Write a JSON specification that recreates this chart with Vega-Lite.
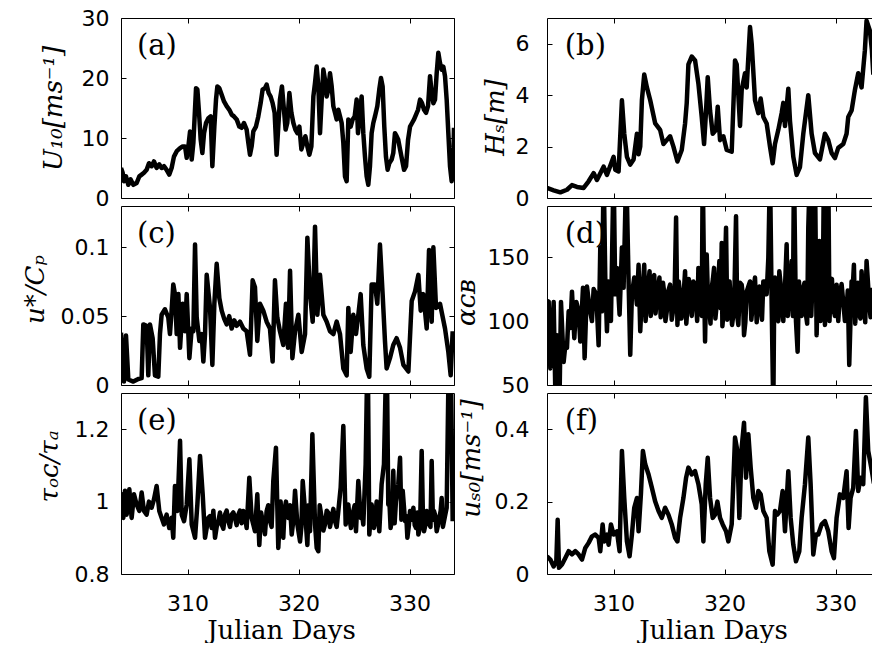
{
"$schema":"https://vega.github.io/schema/vega-lite/v6.json",
"autosize":{"type":"pad"},
"padding":{"left":22,"top":7,"right":0,"bottom":0},
"background":"white",
"columns":2,
"spacing":{"row":8,"column":93},
"bounds":"flush",
"config":{
 "view":{"stroke":null},
 "axis":{"grid":false,"domainColor":"black","domainWidth":1,"tickColor":"black","tickSize":-5,"tickWidth":1,"labelFont":"DejaVu Sans","labelFontSize":22,"labelColor":"black","labelOverlap":false,"labelFlush":false,"titleColor":"black","titleFont":"DejaVu Serif","titleFontWeight":"normal"},
 "text":{"font":"DejaVu Serif","fontSize":29,"align":"left","baseline":"alphabetic","color":"black"}
},
"datasets":{
"a":[{"d":304.00,"v":5.0},{"d":304.15,"v":4.2},{"d":304.27,"v":2.8},{"d":304.45,"v":3.6},{"d":304.66,"v":2.2},{"d":304.87,"v":3.1},{"d":305.11,"v":2.2},{"d":305.41,"v":2.5},{"d":305.65,"v":3.6},{"d":305.86,"v":3.9},{"d":306.07,"v":4.2},{"d":306.31,"v":4.7},{"d":306.52,"v":5.8},{"d":306.76,"v":5.3},{"d":306.97,"v":6.1},{"d":307.21,"v":5.0},{"d":307.45,"v":5.6},{"d":307.66,"v":5.0},{"d":307.87,"v":5.3},{"d":308.11,"v":4.7},{"d":308.35,"v":3.9},{"d":308.56,"v":5.0},{"d":308.77,"v":6.9},{"d":309.02,"v":7.8},{"d":309.32,"v":8.3},{"d":309.56,"v":8.6},{"d":309.77,"v":8.6},{"d":309.92,"v":6.7},{"d":310.07,"v":8.6},{"d":310.22,"v":11.1},{"d":310.37,"v":6.4},{"d":310.52,"v":9.2},{"d":310.76,"v":18.3},{"d":310.88,"v":18.1},{"d":311.03,"v":14.2},{"d":311.18,"v":9.7},{"d":311.33,"v":7.5},{"d":311.48,"v":10.8},{"d":311.66,"v":12.5},{"d":311.87,"v":13.3},{"d":312.08,"v":13.6},{"d":312.23,"v":5.3},{"d":312.41,"v":11.9},{"d":312.56,"v":16.4},{"d":312.68,"v":18.6},{"d":312.86,"v":18.3},{"d":313.07,"v":17.2},{"d":313.28,"v":16.1},{"d":313.52,"v":15.3},{"d":313.76,"v":14.7},{"d":313.97,"v":13.9},{"d":314.18,"v":13.6},{"d":314.42,"v":13.1},{"d":314.66,"v":11.9},{"d":314.87,"v":11.7},{"d":315.08,"v":12.5},{"d":315.32,"v":11.4},{"d":315.47,"v":9.2},{"d":315.62,"v":7.2},{"d":315.77,"v":8.6},{"d":315.92,"v":11.1},{"d":316.16,"v":11.9},{"d":316.37,"v":13.6},{"d":316.58,"v":15.8},{"d":316.76,"v":18.1},{"d":316.97,"v":18.3},{"d":317.12,"v":18.9},{"d":317.30,"v":17.5},{"d":317.48,"v":16.9},{"d":317.66,"v":15.8},{"d":317.84,"v":14.2},{"d":318.02,"v":7.2},{"d":318.17,"v":11.9},{"d":318.32,"v":16.4},{"d":318.50,"v":18.6},{"d":318.68,"v":14.7},{"d":318.83,"v":11.4},{"d":318.98,"v":12.5},{"d":319.17,"v":17.5},{"d":319.35,"v":14.2},{"d":319.53,"v":12.5},{"d":319.71,"v":11.4},{"d":319.89,"v":10.8},{"d":320.07,"v":11.9},{"d":320.25,"v":8.1},{"d":320.43,"v":9.2},{"d":320.61,"v":10.3},{"d":320.79,"v":8.6},{"d":320.97,"v":7.2},{"d":321.15,"v":8.6},{"d":321.33,"v":16.9},{"d":321.48,"v":19.2},{"d":321.63,"v":21.9},{"d":321.78,"v":18.6},{"d":321.93,"v":10.8},{"d":322.08,"v":16.4},{"d":322.23,"v":21.4},{"d":322.38,"v":19.7},{"d":322.53,"v":16.9},{"d":322.68,"v":18.1},{"d":322.83,"v":20.8},{"d":322.98,"v":18.6},{"d":323.13,"v":15.3},{"d":323.28,"v":14.2},{"d":323.43,"v":13.1},{"d":323.58,"v":14.7},{"d":323.73,"v":13.6},{"d":323.88,"v":12.5},{"d":324.03,"v":9.2},{"d":324.18,"v":3.6},{"d":324.33,"v":2.8},{"d":324.48,"v":13.1},{"d":324.69,"v":11.9},{"d":324.87,"v":13.1},{"d":325.05,"v":13.6},{"d":325.23,"v":16.4},{"d":325.35,"v":10.8},{"d":325.53,"v":14.2},{"d":325.68,"v":16.9},{"d":325.83,"v":10.8},{"d":325.98,"v":6.9},{"d":326.13,"v":3.6},{"d":326.28,"v":2.2},{"d":326.43,"v":5.3},{"d":326.58,"v":10.8},{"d":326.73,"v":12.5},{"d":326.88,"v":13.6},{"d":327.09,"v":15.3},{"d":327.27,"v":18.1},{"d":327.42,"v":20.0},{"d":327.57,"v":18.6},{"d":327.72,"v":11.9},{"d":327.87,"v":6.9},{"d":328.02,"v":4.7},{"d":328.17,"v":5.8},{"d":328.38,"v":6.4},{"d":328.53,"v":7.5},{"d":328.68,"v":10.8},{"d":328.83,"v":10.3},{"d":328.98,"v":9.7},{"d":329.14,"v":8.1},{"d":329.32,"v":6.4},{"d":329.50,"v":4.7},{"d":329.68,"v":5.3},{"d":329.86,"v":9.7},{"d":330.04,"v":11.9},{"d":330.22,"v":12.5},{"d":330.40,"v":13.1},{"d":330.58,"v":13.9},{"d":330.76,"v":14.7},{"d":330.94,"v":16.4},{"d":331.12,"v":15.8},{"d":331.30,"v":14.7},{"d":331.48,"v":14.2},{"d":331.66,"v":15.3},{"d":331.84,"v":20.3},{"d":331.99,"v":17.5},{"d":332.14,"v":15.8},{"d":332.29,"v":16.4},{"d":332.44,"v":20.8},{"d":332.59,"v":24.2},{"d":332.74,"v":22.5},{"d":332.89,"v":21.4},{"d":333.04,"v":21.9},{"d":333.19,"v":20.3},{"d":333.34,"v":16.4},{"d":333.49,"v":10.8},{"d":333.64,"v":5.3},{"d":333.79,"v":2.8},{"d":333.94,"v":6.4},{"d":334.0,"v":11.7}],
"b":[{"d":304.00,"v":0.39},{"d":304.60,"v":0.30},{"d":305.20,"v":0.22},{"d":305.80,"v":0.32},{"d":306.25,"v":0.50},{"d":306.70,"v":0.43},{"d":307.30,"v":0.39},{"d":307.75,"v":0.65},{"d":308.20,"v":0.97},{"d":308.50,"v":0.70},{"d":309.10,"v":1.22},{"d":309.40,"v":0.90},{"d":310.00,"v":1.60},{"d":310.15,"v":1.10},{"d":310.45,"v":1.03},{"d":310.75,"v":3.80},{"d":310.96,"v":2.50},{"d":311.20,"v":1.60},{"d":311.50,"v":1.30},{"d":311.80,"v":1.50},{"d":312.10,"v":2.50},{"d":312.25,"v":1.70},{"d":312.40,"v":2.00},{"d":312.55,"v":3.80},{"d":312.76,"v":4.80},{"d":313.00,"v":4.30},{"d":313.30,"v":3.80},{"d":313.75,"v":2.90},{"d":314.19,"v":2.65},{"d":314.49,"v":2.10},{"d":314.79,"v":2.25},{"d":315.09,"v":2.40},{"d":315.39,"v":2.00},{"d":315.75,"v":1.42},{"d":316.14,"v":1.87},{"d":316.44,"v":2.90},{"d":316.59,"v":3.70},{"d":316.74,"v":5.20},{"d":317.04,"v":5.50},{"d":317.34,"v":5.35},{"d":317.64,"v":4.45},{"d":317.94,"v":3.15},{"d":318.15,"v":2.10},{"d":318.33,"v":3.40},{"d":318.48,"v":4.70},{"d":318.69,"v":3.40},{"d":318.93,"v":2.50},{"d":319.23,"v":2.65},{"d":319.38,"v":3.55},{"d":319.59,"v":2.25},{"d":319.89,"v":2.40},{"d":320.19,"v":1.87},{"d":320.64,"v":1.80},{"d":320.94,"v":5.35},{"d":321.09,"v":5.20},{"d":321.39,"v":2.80},{"d":321.54,"v":4.20},{"d":321.84,"v":4.85},{"d":321.99,"v":4.30},{"d":322.29,"v":6.65},{"d":322.44,"v":6.00},{"d":322.74,"v":3.80},{"d":323.04,"v":3.30},{"d":323.25,"v":3.87},{"d":323.49,"v":3.15},{"d":323.79,"v":2.90},{"d":324.09,"v":2.00},{"d":324.33,"v":1.35},{"d":324.54,"v":2.10},{"d":324.84,"v":2.65},{"d":325.14,"v":3.30},{"d":325.29,"v":3.70},{"d":325.44,"v":2.80},{"d":325.74,"v":4.25},{"d":325.89,"v":3.00},{"d":326.19,"v":1.60},{"d":326.49,"v":0.90},{"d":326.79,"v":1.20},{"d":327.09,"v":2.50},{"d":327.54,"v":4.00},{"d":327.84,"v":2.50},{"d":328.14,"v":1.75},{"d":328.59,"v":1.50},{"d":329.04,"v":2.50},{"d":329.34,"v":2.25},{"d":329.64,"v":1.75},{"d":329.94,"v":1.55},{"d":330.24,"v":1.95},{"d":330.69,"v":2.10},{"d":330.99,"v":2.50},{"d":331.14,"v":3.15},{"d":331.44,"v":3.40},{"d":331.74,"v":4.20},{"d":332.04,"v":4.85},{"d":332.34,"v":4.30},{"d":332.64,"v":5.75},{"d":332.79,"v":6.90},{"d":333.09,"v":6.50},{"d":333.27,"v":5.75},{"d":333.40,"v":4.80}],
"c":[{"d":304.00,"v":0.038},{"d":304.15,"v":0.017},{"d":304.27,"v":0.0025},{"d":304.45,"v":0.036},{"d":304.66,"v":0.004},{"d":305.11,"v":0.0025},{"d":305.56,"v":0.0044},{"d":305.86,"v":0.005},{"d":306.01,"v":0.044},{"d":306.31,"v":0.043},{"d":306.46,"v":0.007},{"d":306.61,"v":0.044},{"d":306.85,"v":0.034},{"d":307.06,"v":0.007},{"d":307.36,"v":0.006},{"d":307.51,"v":0.037},{"d":307.66,"v":0.051},{"d":307.96,"v":0.055},{"d":308.26,"v":0.049},{"d":308.41,"v":0.037},{"d":308.56,"v":0.054},{"d":308.71,"v":0.073},{"d":308.86,"v":0.066},{"d":309.02,"v":0.037},{"d":309.17,"v":0.066},{"d":309.32,"v":0.027},{"d":309.56,"v":0.059},{"d":309.77,"v":0.039},{"d":309.92,"v":0.066},{"d":310.16,"v":0.0195},{"d":310.37,"v":0.041},{"d":310.52,"v":0.039},{"d":310.67,"v":0.102},{"d":310.82,"v":0.049},{"d":311.06,"v":0.032},{"d":311.27,"v":0.037},{"d":311.42,"v":0.017},{"d":311.57,"v":0.037},{"d":311.72,"v":0.080},{"d":312.02,"v":0.056},{"d":312.23,"v":0.0146},{"d":312.41,"v":0.059},{"d":312.62,"v":0.088},{"d":312.86,"v":0.063},{"d":313.07,"v":0.054},{"d":313.3,"v":0.048},{"d":313.52,"v":0.044},{"d":313.75,"v":0.05},{"d":313.97,"v":0.041},{"d":314.2,"v":0.047},{"d":314.42,"v":0.043},{"d":314.72,"v":0.046},{"d":315.02,"v":0.041},{"d":315.32,"v":0.039},{"d":315.62,"v":0.022},{"d":315.86,"v":0.076},{"d":316.07,"v":0.071},{"d":316.28,"v":0.032},{"d":316.52,"v":0.059},{"d":316.82,"v":0.054},{"d":317.12,"v":0.046},{"d":317.42,"v":0.041},{"d":317.66,"v":0.017},{"d":317.87,"v":0.076},{"d":318.08,"v":0.049},{"d":318.32,"v":0.039},{"d":318.62,"v":0.029},{"d":318.86,"v":0.059},{"d":319.05,"v":0.027},{"d":319.23,"v":0.083},{"d":319.44,"v":0.0195},{"d":319.68,"v":0.039},{"d":319.98,"v":0.051},{"d":320.28,"v":0.024},{"d":320.58,"v":0.037},{"d":320.79,"v":0.107},{"d":321.03,"v":0.066},{"d":321.27,"v":0.046},{"d":321.48,"v":0.115},{"d":321.69,"v":0.051},{"d":321.93,"v":0.080},{"d":322.23,"v":0.051},{"d":322.53,"v":0.046},{"d":322.83,"v":0.039},{"d":323.13,"v":0.037},{"d":323.43,"v":0.046},{"d":323.73,"v":0.037},{"d":324.03,"v":0.012},{"d":324.33,"v":0.007},{"d":324.48,"v":0.056},{"d":324.69,"v":0.024},{"d":324.93,"v":0.051},{"d":325.17,"v":0.037},{"d":325.38,"v":0.051},{"d":325.59,"v":0.066},{"d":325.83,"v":0.029},{"d":326.13,"v":0.012},{"d":326.37,"v":0.006},{"d":326.58,"v":0.073},{"d":326.88,"v":0.073},{"d":327.09,"v":0.059},{"d":327.33,"v":0.102},{"d":327.57,"v":0.066},{"d":327.78,"v":0.032},{"d":327.93,"v":0.012},{"d":328.23,"v":0.0195},{"d":328.53,"v":0.029},{"d":328.83,"v":0.034},{"d":329.14,"v":0.027},{"d":329.44,"v":0.0146},{"d":329.89,"v":0.0098},{"d":330.19,"v":0.061},{"d":330.49,"v":0.068},{"d":330.79,"v":0.080},{"d":331.00,"v":0.054},{"d":331.24,"v":0.066},{"d":331.54,"v":0.041},{"d":331.75,"v":0.098},{"d":331.99,"v":0.046},{"d":332.14,"v":0.100},{"d":332.38,"v":0.056},{"d":332.74,"v":0.059},{"d":333.19,"v":0.041},{"d":333.49,"v":0.024},{"d":333.70,"v":0.007},{"d":333.88,"v":0.039}],
"d":[{"d":304.00,"v":100},{"d":304.15,"v":115.4},{"d":304.30,"v":63},{"d":304.60,"v":115},{"d":304.75,"v":45},{"d":304.90,"v":89},{"d":305.14,"v":45},{"d":305.26,"v":115},{"d":305.50,"v":68},{"d":305.65,"v":81},{"d":305.80,"v":79},{"d":305.95,"v":107.6},{"d":306.10,"v":94.5},{"d":306.25,"v":123},{"d":306.46,"v":86.6},{"d":306.64,"v":115},{"d":306.85,"v":107.6},{"d":307.00,"v":84},{"d":307.24,"v":126},{"d":307.39,"v":71},{"d":307.60,"v":127},{"d":307.84,"v":110},{"d":308.05,"v":100},{"d":308.20,"v":125},{"d":308.44,"v":121},{"d":308.65,"v":81},{"d":308.80,"v":157.6},{"d":308.95,"v":107.6},{"d":309.10,"v":220},{"d":309.25,"v":134},{"d":309.40,"v":92},{"d":309.55,"v":131},{"d":309.76,"v":100},{"d":310.00,"v":220},{"d":310.15,"v":121},{"d":310.30,"v":141.6},{"d":310.54,"v":105},{"d":310.75,"v":157.6},{"d":310.90,"v":126},{"d":311.14,"v":220},{"d":311.35,"v":131},{"d":311.50,"v":73.6},{"d":311.65,"v":121},{"d":311.86,"v":134},{"d":312.10,"v":113},{"d":312.25,"v":144},{"d":312.40,"v":92},{"d":312.55,"v":121},{"d":312.76,"v":144},{"d":313.00,"v":113},{"d":313.24,"v":139},{"d":313.45,"v":121},{"d":313.66,"v":136},{"d":313.90,"v":118},{"d":314.13,"v":134},{"d":314.34,"v":110},{"d":314.55,"v":123},{"d":314.79,"v":107.6},{"d":315.09,"v":128.5},{"d":315.39,"v":110},{"d":315.63,"v":181},{"d":315.75,"v":97},{"d":315.99,"v":121},{"d":316.23,"v":107.6},{"d":316.44,"v":139},{"d":316.65,"v":110},{"d":316.89,"v":126},{"d":317.19,"v":131},{"d":317.43,"v":113},{"d":317.64,"v":141.6},{"d":317.85,"v":118},{"d":318.03,"v":220},{"d":318.24,"v":84},{"d":318.39,"v":152},{"d":318.63,"v":107.6},{"d":318.84,"v":126},{"d":319.05,"v":141.6},{"d":319.29,"v":113},{"d":319.53,"v":147},{"d":319.74,"v":161},{"d":319.89,"v":105},{"d":320.13,"v":173},{"d":320.34,"v":126},{"d":320.55,"v":113},{"d":320.79,"v":105},{"d":321.03,"v":182},{"d":321.24,"v":97},{"d":321.54,"v":128.5},{"d":321.75,"v":89},{"d":321.99,"v":123},{"d":322.29,"v":131},{"d":322.53,"v":113},{"d":322.74,"v":134},{"d":323.04,"v":121},{"d":323.25,"v":110},{"d":323.49,"v":131},{"d":323.79,"v":121},{"d":323.94,"v":149.5},{"d":324.09,"v":220},{"d":324.24,"v":113},{"d":324.39,"v":30},{"d":324.54,"v":134},{"d":324.75,"v":102},{"d":324.93,"v":139},{"d":325.14,"v":113},{"d":325.44,"v":126},{"d":325.59,"v":160},{"d":325.83,"v":121},{"d":326.04,"v":147},{"d":326.25,"v":220},{"d":326.43,"v":100},{"d":326.58,"v":76},{"d":326.79,"v":118},{"d":327.09,"v":126},{"d":327.33,"v":105},{"d":327.54,"v":173},{"d":327.69,"v":220},{"d":327.93,"v":134},{"d":328.14,"v":220},{"d":328.29,"v":89},{"d":328.53,"v":162.6},{"d":328.74,"v":121},{"d":328.95,"v":220},{"d":329.13,"v":113},{"d":329.34,"v":220},{"d":329.55,"v":126},{"d":329.79,"v":110},{"d":330.09,"v":128.5},{"d":330.39,"v":121},{"d":330.69,"v":115},{"d":330.99,"v":110},{"d":331.23,"v":65.7},{"d":331.44,"v":131},{"d":331.65,"v":144},{"d":331.89,"v":121},{"d":332.13,"v":105},{"d":332.34,"v":139},{"d":332.55,"v":115},{"d":332.79,"v":147},{"d":333.03,"v":113},{"d":333.27,"v":126},
{"d":312.17,"v":128},{"d":312.47,"v":105},{"d":312.66,"v":131},{"d":312.88,"v":100},{"d":313.12,"v":129},{"d":313.35,"v":104},{"d":313.55,"v":133},{"d":313.78,"v":106},{"d":314.02,"v":127},{"d":314.24,"v":103},{"d":314.45,"v":130},{"d":314.67,"v":100},{"d":314.94,"v":124},{"d":315.24,"v":101},{"d":315.51,"v":128},{"d":315.87,"v":131},{"d":316.11,"v":102},{"d":316.34,"v":125},{"d":316.55,"v":98},{"d":316.77,"v":133},{"d":317.04,"v":104},{"d":317.31,"v":129},{"d":317.53,"v":100},{"d":317.75,"v":125},{"d":317.94,"v":104},{"d":318.15,"v":130},{"d":318.5,"v":118},{"d":318.73,"v":98},{"d":318.95,"v":133},{"d":319.17,"v":102},{"d":319.41,"v":128},{"d":319.64,"v":110},{"d":319.8,"v":96},{"d":320.0,"v":130},{"d":320.24,"v":101},{"d":320.45,"v":131},{"d":320.67,"v":97},{"d":320.9,"v":129},{"d":321.14,"v":104},{"d":321.39,"v":130},{"d":321.65,"v":120},{"d":321.87,"v":99},{"d":322.14,"v":127},{"d":322.41,"v":101},{"d":322.64,"v":127},{"d":322.89,"v":99},{"d":323.14,"v":127},{"d":323.37,"v":101},{"d":323.65,"v":131},{"d":324.45,"v":98},{"d":324.65,"v":124},{"d":324.84,"v":100},{"d":325.04,"v":130},{"d":325.29,"v":100},{"d":325.7,"v":104},{"d":325.94,"v":126},{"d":326.15,"v":104},{"d":326.7,"v":131},{"d":326.94,"v":104},{"d":327.2,"v":130},{"d":327.44,"v":98},{"d":327.81,"v":104},{"d":328.04,"v":129},{"d":328.4,"v":128},{"d":328.64,"v":100},{"d":328.85,"v":127},{"d":329.04,"v":97},{"d":329.24,"v":128},{"d":329.45,"v":100},{"d":329.67,"v":133},{"d":329.94,"v":104},{"d":330.24,"v":100},{"d":330.54,"v":129},{"d":330.84,"v":100},{"d":331.1,"v":124},{"d":331.34,"v":100},{"d":331.55,"v":127},{"d":331.77,"v":98},{"d":332.01,"v":130},{"d":332.24,"v":102},{"d":332.45,"v":124},{"d":332.67,"v":99},{"d":332.91,"v":131},{"d":333.15,"v":103}],
"e":[{"d":304.00,"v":0.978},{"d":304.06,"v":1.02},{"d":304.21,"v":0.955},{"d":304.36,"v":1.03},{"d":304.51,"v":0.964},{"d":304.75,"v":1.034},{"d":304.96,"v":0.955},{"d":305.17,"v":1.02},{"d":305.41,"v":0.992},{"d":305.65,"v":0.974},{"d":305.86,"v":1.025},{"d":306.07,"v":0.974},{"d":306.31,"v":0.964},{"d":306.52,"v":1.0},{"d":306.76,"v":0.983},{"d":306.97,"v":1.006},{"d":307.21,"v":1.043},{"d":307.45,"v":0.974},{"d":307.66,"v":0.955},{"d":307.87,"v":0.937},{"d":308.11,"v":0.964},{"d":308.35,"v":0.927},{"d":308.56,"v":0.955},{"d":308.71,"v":0.9},{"d":308.86,"v":1.043},{"d":309.08,"v":0.974},{"d":309.32,"v":1.168},{"d":309.47,"v":0.964},{"d":309.68,"v":0.946},{"d":309.92,"v":0.992},{"d":310.16,"v":1.117},{"d":310.37,"v":0.937},{"d":310.67,"v":0.9},{"d":310.88,"v":0.992},{"d":311.12,"v":1.126},{"d":311.36,"v":1.02},{"d":311.57,"v":0.9},{"d":311.87,"v":0.955},{"d":312.17,"v":0.927},{"d":312.47,"v":0.9},{"d":312.77,"v":0.946},{"d":313.07,"v":0.937},{"d":313.37,"v":0.964},{"d":313.67,"v":0.946},{"d":313.97,"v":0.964},{"d":314.27,"v":0.955},{"d":314.57,"v":0.964},{"d":315.02,"v":0.974},{"d":315.32,"v":0.927},{"d":315.56,"v":1.066},{"d":315.77,"v":0.955},{"d":316.07,"v":0.918},{"d":316.28,"v":1.02},{"d":316.46,"v":0.88},{"d":316.82,"v":0.937},{"d":317.12,"v":0.974},{"d":317.42,"v":0.946},{"d":317.72,"v":1.057},{"d":317.96,"v":1.149},{"d":318.17,"v":0.872},{"d":318.38,"v":1.0},{"d":318.62,"v":0.9},{"d":318.86,"v":1.0},{"d":319.08,"v":0.955},{"d":319.38,"v":0.909},{"d":319.68,"v":1.03},{"d":319.89,"v":0.937},{"d":320.13,"v":0.89},{"d":320.37,"v":1.057},{"d":320.58,"v":0.974},{"d":320.79,"v":0.88},{"d":321.03,"v":0.918},{"d":321.24,"v":1.186},{"d":321.48,"v":0.937},{"d":321.63,"v":0.872},{"d":321.78,"v":0.863},{"d":322.08,"v":0.955},{"d":322.38,"v":0.937},{"d":322.68,"v":0.969},{"d":322.98,"v":0.955},{"d":323.28,"v":0.946},{"d":323.58,"v":0.974},{"d":323.79,"v":1.039},{"d":324.03,"v":1.209},{"d":324.24,"v":0.937},{"d":324.48,"v":0.992},{"d":324.72,"v":0.927},{"d":324.93,"v":0.974},{"d":325.17,"v":0.918},{"d":325.38,"v":1.057},{"d":325.59,"v":0.955},{"d":325.83,"v":0.937},{"d":326.04,"v":1.103},{"d":326.22,"v":1.45},{"d":326.37,"v":0.909},{"d":326.58,"v":0.992},{"d":326.79,"v":0.927},{"d":327.03,"v":1.0},{"d":327.27,"v":0.918},{"d":327.48,"v":1.048},{"d":327.69,"v":1.103},{"d":327.93,"v":1.45},{"d":328.08,"v":0.992},{"d":328.29,"v":0.927},{"d":328.53,"v":1.085},{"d":328.77,"v":1.0},{"d":328.98,"v":1.048},{"d":329.14,"v":1.121},{"d":329.38,"v":1.03},{"d":329.59,"v":0.946},{"d":329.80,"v":0.9},{"d":330.04,"v":0.974},{"d":330.34,"v":0.983},{"d":330.58,"v":0.927},{"d":330.79,"v":0.909},{"d":331.09,"v":1.14},{"d":331.30,"v":0.918},{"d":331.54,"v":0.974},{"d":331.78,"v":0.937},{"d":331.99,"v":1.112},{"d":332.20,"v":0.974},{"d":332.44,"v":0.918},{"d":332.68,"v":0.955},{"d":332.89,"v":1.01},{"d":333.10,"v":0.946},{"d":333.34,"v":0.983},{"d":333.55,"v":1.45},{"d":333.70,"v":1.45},{"d":333.88,"v":0.946},
{"d":312.02,"v":0.96},{"d":312.32,"v":0.975},{"d":312.62,"v":0.93},{"d":312.92,"v":0.97},{"d":313.22,"v":0.925},{"d":313.52,"v":0.975},{"d":313.82,"v":0.93},{"d":314.12,"v":0.97},{"d":314.42,"v":0.935},{"d":314.72,"v":0.975},{"d":314.87,"v":0.94},{"d":315.17,"v":0.96},{"d":316.62,"v":0.97},{"d":316.97,"v":0.91},{"d":317.27,"v":0.99},{"d":317.57,"v":0.93},{"d":318.5,"v":0.93},{"d":318.74,"v":0.98},{"d":319.23,"v":0.99},{"d":319.53,"v":0.95},{"d":320.25,"v":0.93},{"d":320.9,"v":0.99},{"d":321.9,"v":0.99},{"d":322.23,"v":0.92},{"d":322.53,"v":0.975},{"d":322.83,"v":0.93},{"d":323.13,"v":0.98},{"d":323.43,"v":0.93},{"d":324.6,"v":0.95},{"d":325.05,"v":0.99},{"d":325.7,"v":0.97},{"d":326.9,"v":0.95},{"d":327.15,"v":0.96},{"d":328.18,"v":1.0},{"d":328.4,"v":0.95},{"d":328.65,"v":0.94},{"d":329.26,"v":0.95},{"d":329.7,"v":0.96},{"d":329.92,"v":0.93},{"d":330.19,"v":0.95},{"d":330.46,"v":0.935},{"d":330.7,"v":0.97},{"d":330.94,"v":0.93},{"d":331.2,"v":0.96},{"d":331.42,"v":0.935},{"d":331.66,"v":0.96},{"d":331.88,"v":0.93},{"d":332.1,"v":0.95},{"d":332.32,"v":0.96},{"d":332.56,"v":0.935},{"d":332.8,"v":0.975},{"d":333.0,"v":0.93},{"d":333.22,"v":0.965}],
"f":[{"d":304.00,"v":0.049},{"d":304.30,"v":0.040},{"d":304.60,"v":0.021},{"d":304.84,"v":0.035},{"d":304.96,"v":0.15},{"d":305.08,"v":0.017},{"d":305.35,"v":0.026},{"d":305.65,"v":0.044},{"d":305.95,"v":0.063},{"d":306.25,"v":0.054},{"d":306.55,"v":0.063},{"d":306.85,"v":0.054},{"d":307.15,"v":0.040},{"d":307.45,"v":0.072},{"d":307.75,"v":0.086},{"d":308.05,"v":0.104},{"d":308.35,"v":0.109},{"d":308.65,"v":0.1},{"d":308.80,"v":0.063},{"d":309.01,"v":0.137},{"d":309.16,"v":0.09},{"d":309.40,"v":0.109},{"d":309.55,"v":0.081},{"d":309.76,"v":0.137},{"d":310.00,"v":0.109},{"d":310.30,"v":0.118},{"d":310.54,"v":0.063},{"d":310.75,"v":0.34},{"d":310.96,"v":0.21},{"d":311.20,"v":0.09},{"d":311.44,"v":0.049},{"d":311.65,"v":0.109},{"d":311.86,"v":0.183},{"d":312.10,"v":0.21},{"d":312.25,"v":0.118},{"d":312.46,"v":0.22},{"d":312.64,"v":0.34},{"d":312.85,"v":0.303},{"d":313.15,"v":0.275},{"d":313.45,"v":0.238},{"d":313.75,"v":0.2},{"d":314.05,"v":0.174},{"d":314.34,"v":0.155},{"d":314.64,"v":0.183},{"d":314.94,"v":0.164},{"d":315.24,"v":0.137},{"d":315.54,"v":0.1},{"d":315.75,"v":0.09},{"d":315.99,"v":0.155},{"d":316.29,"v":0.21},{"d":316.53,"v":0.266},{"d":316.74,"v":0.294},{"d":317.04,"v":0.275},{"d":317.34,"v":0.284},{"d":317.64,"v":0.248},{"d":317.94,"v":0.192},{"d":318.09,"v":0.09},{"d":318.30,"v":0.248},{"d":318.48,"v":0.321},{"d":318.69,"v":0.21},{"d":318.93,"v":0.155},{"d":319.14,"v":0.164},{"d":319.35,"v":0.2},{"d":319.59,"v":0.155},{"d":319.83,"v":0.137},{"d":320.13,"v":0.118},{"d":320.34,"v":0.09},{"d":320.64,"v":0.137},{"d":320.94,"v":0.377},{"d":321.15,"v":0.34},{"d":321.33,"v":0.155},{"d":321.54,"v":0.349},{"d":321.75,"v":0.418},{"d":321.93,"v":0.266},{"d":322.14,"v":0.386},{"d":322.35,"v":0.294},{"d":322.59,"v":0.21},{"d":322.83,"v":0.183},{"d":323.04,"v":0.229},{"d":323.25,"v":0.22},{"d":323.49,"v":0.174},{"d":323.79,"v":0.155},{"d":324.03,"v":0.063},{"d":324.33,"v":0.026},{"d":324.54,"v":0.174},{"d":324.75,"v":0.164},{"d":324.99,"v":0.174},{"d":325.23,"v":0.229},{"d":325.44,"v":0.118},{"d":325.74,"v":0.284},{"d":325.95,"v":0.155},{"d":326.19,"v":0.081},{"d":326.43,"v":0.035},{"d":326.73,"v":0.063},{"d":326.94,"v":0.155},{"d":327.24,"v":0.248},{"d":327.54,"v":0.377},{"d":327.75,"v":0.248},{"d":327.99,"v":0.054},{"d":328.23,"v":0.109},{"d":328.44,"v":0.109},{"d":328.74,"v":0.137},{"d":329.04,"v":0.146},{"d":329.34,"v":0.118},{"d":329.64,"v":0.063},{"d":329.85,"v":0.044},{"d":330.09,"v":0.155},{"d":330.39,"v":0.22},{"d":330.69,"v":0.21},{"d":330.99,"v":0.284},{"d":331.17,"v":0.127},{"d":331.35,"v":0.21},{"d":331.59,"v":0.238},{"d":331.83,"v":0.395},{"d":332.04,"v":0.229},{"d":332.25,"v":0.266},{"d":332.49,"v":0.248},{"d":332.73,"v":0.488},{"d":332.94,"v":0.34},{"d":333.27,"v":0.284},{"d":333.45,"v":0.25}]
},
"concat":[
{"width":333,"height":180,"data":{"name":"a"},
 "layer":[
  {"mark":{"type":"line","color":"black","strokeWidth":4.5,"clip":true,"strokeJoin":"round"},
   "encoding":{"x":{"field":"d","type":"quantitative","scale":{"domain":[304,334],"nice":false,"zero":false},"axis":{"orient":"bottom","values":[310,320,330],"labels":false,"title":null}},
    "y":{"field":"v","type":"quantitative","scale":{"domain":[0,30],"nice":false,"zero":false},"axis":{"orient":"left","values":[0,10,20,30],"format":"~r","labelPadding":17,"title":"U₁₀[ms⁻¹]","titleX":-68,"titleY":90,"titleAngle":270,"titleBaseline":"middle","titleAlign":"center","titleFontSize":26,"titleFontStyle":"italic"}}}},
  {"mark":{"type":"line","strokeOpacity":0},
   "encoding":{"x":{"field":"d","type":"quantitative","scale":{"domain":[304,334],"nice":false,"zero":false},"axis":{"orient":"top","values":[310,320,330],"labels":false,"title":null}},
    "y":{"field":"v","type":"quantitative","scale":{"domain":[0,30],"nice":false,"zero":false},"axis":{"orient":"right","values":[0,10,20,30],"labels":false,"title":null}}}},
  {"data":{"values":[{"label":"(a)"}]},"mark":{"type":"text"},
   "encoding":{"x":{"datum":305.44,"type":"quantitative","scale":{"domain":[304,334],"nice":false,"zero":false},"axis":null},"y":{"datum":23.83,"type":"quantitative","scale":{"domain":[0,30],"nice":false,"zero":false},"axis":null},"text":{"field":"label"}}}
 ],
 "resolve":{"scale":{"x":"independent","y":"independent"},"axis":{"x":"independent","y":"independent"}}},
{"width":325,"height":180,"data":{"name":"b"},
 "layer":[
  {"mark":{"type":"line","color":"black","strokeWidth":4.5,"clip":true,"strokeJoin":"round"},
   "encoding":{"x":{"field":"d","type":"quantitative","scale":{"domain":[304,333.28],"nice":false,"zero":false},"axis":{"orient":"bottom","values":[310,320,330],"labels":false,"title":null}},
    "y":{"field":"v","type":"quantitative","scale":{"domain":[0,7],"nice":false,"zero":false},"axis":{"orient":"left","values":[0,2,4,6],"format":"~r","labelPadding":23,"title":"Hₛ[m]","titleX":-52,"titleY":99,"titleAngle":270,"titleBaseline":"middle","titleAlign":"center","titleFontSize":26,"titleFontStyle":"italic"}}}},
  {"mark":{"type":"line","strokeOpacity":0},
   "encoding":{"x":{"field":"d","type":"quantitative","scale":{"domain":[304,333.28],"nice":false,"zero":false},"axis":{"orient":"top","values":[310,320,330],"labels":false,"title":null}},
    "y":{"field":"v","type":"quantitative","scale":{"domain":[0,7],"nice":false,"zero":false},"axis":null}}},
  {"data":{"values":[{"label":"(b)"}]},"mark":{"type":"text"},
   "encoding":{"x":{"datum":305.6,"type":"quantitative","scale":{"domain":[304,333.28],"nice":false,"zero":false},"axis":null},"y":{"datum":5.56,"type":"quantitative","scale":{"domain":[0,7],"nice":false,"zero":false},"axis":null},"text":{"field":"label"}}}
 ],
 "resolve":{"scale":{"x":"independent","y":"independent"},"axis":{"x":"independent","y":"independent"}}},
{"width":333,"height":179,"data":{"name":"c"},
 "layer":[
  {"mark":{"type":"line","color":"black","strokeWidth":4.5,"clip":true,"strokeJoin":"round"},
   "encoding":{"x":{"field":"d","type":"quantitative","scale":{"domain":[304,334],"nice":false,"zero":false},"axis":{"orient":"bottom","values":[310,320,330],"labels":false,"title":null}},
    "y":{"field":"v","type":"quantitative","scale":{"domain":[0,0.13],"nice":false,"zero":false},"axis":{"orient":"left","values":[0,0.05,0.1],"format":"~r","labelPadding":17,"title":"u*/Cₚ","titleX":-86,"titleY":83,"titleAngle":270,"titleBaseline":"middle","titleAlign":"center","titleFontSize":26,"titleFontStyle":"italic"}}}},
  {"mark":{"type":"line","strokeOpacity":0},
   "encoding":{"x":{"field":"d","type":"quantitative","scale":{"domain":[304,334],"nice":false,"zero":false},"axis":{"orient":"top","values":[310,320,330],"labels":false,"title":null}},
    "y":{"field":"v","type":"quantitative","scale":{"domain":[0,0.13],"nice":false,"zero":false},"axis":{"orient":"right","values":[0,0.05,0.1],"labels":false,"title":null}}}},
  {"data":{"values":[{"label":"(c)"}]},"mark":{"type":"text"},
   "encoding":{"x":{"datum":305.44,"type":"quantitative","scale":{"domain":[304,334],"nice":false,"zero":false},"axis":null},"y":{"datum":0.1031,"type":"quantitative","scale":{"domain":[0,0.13],"nice":false,"zero":false},"axis":null},"text":{"field":"label"}}}
 ],
 "resolve":{"scale":{"x":"independent","y":"independent"},"axis":{"x":"independent","y":"independent"}}},
{"width":325,"height":179,"data":{"name":"d"},
 "layer":[
  {"mark":{"type":"line","color":"black","strokeWidth":4.5,"clip":true,"strokeJoin":"round"},
   "encoding":{"x":{"field":"d","type":"quantitative","scale":{"domain":[304,333.28],"nice":false,"zero":false},"axis":{"orient":"bottom","values":[310,320,330],"labels":false,"title":null}},
    "y":{"field":"v","type":"quantitative","scale":{"domain":[50,190],"nice":false,"zero":false},"axis":{"orient":"left","values":[50,100,150],"format":"~r","labelPadding":23,"title":"αᴄʙ","titleX":-81,"titleY":96,"titleAngle":270,"titleBaseline":"middle","titleAlign":"center","titleFontSize":26,"titleFontStyle":"italic"}}}},
  {"mark":{"type":"line","strokeOpacity":0},
   "encoding":{"x":{"field":"d","type":"quantitative","scale":{"domain":[304,333.28],"nice":false,"zero":false},"axis":{"orient":"top","values":[310,320,330],"labels":false,"title":null}},
    "y":{"field":"v","type":"quantitative","scale":{"domain":[50,190],"nice":false,"zero":false},"axis":null}}},
  {"data":{"values":[{"label":"(d)"}]},"mark":{"type":"text"},
   "encoding":{"x":{"datum":305.6,"type":"quantitative","scale":{"domain":[304,333.28],"nice":false,"zero":false},"axis":null},"y":{"datum":161.1,"type":"quantitative","scale":{"domain":[50,190],"nice":false,"zero":false},"axis":null},"text":{"field":"label"}}}
 ],
 "resolve":{"scale":{"x":"independent","y":"independent"},"axis":{"x":"independent","y":"independent"}}},
{"width":333,"height":181,"data":{"name":"e"},
 "layer":[
  {"mark":{"type":"line","color":"black","strokeWidth":4.5,"clip":true,"strokeJoin":"round"},
   "encoding":{"x":{"field":"d","type":"quantitative","scale":{"domain":[304,334],"nice":false,"zero":false},"axis":{"orient":"bottom","values":[310,320,330],"format":"~r","labelPadding":24,"title":"Julian Days","titleFontSize":26,"titleX":160,"titleY":64,"titleBaseline":"alphabetic","titleAlign":"center"}},
    "y":{"field":"v","type":"quantitative","scale":{"domain":[0.8,1.3],"nice":false,"zero":false},"axis":{"orient":"left","values":[0.8,1,1.2],"format":"~r","labelPadding":17,"title":"τₒᴄ/τₐ","titleX":-72,"titleY":73,"titleAngle":270,"titleBaseline":"middle","titleAlign":"center","titleFontSize":26,"titleFontStyle":"italic"}}}},
  {"mark":{"type":"line","strokeOpacity":0},
   "encoding":{"x":{"field":"d","type":"quantitative","scale":{"domain":[304,334],"nice":false,"zero":false},"axis":{"orient":"top","values":[310,320,330],"labels":false,"title":null}},
    "y":{"field":"v","type":"quantitative","scale":{"domain":[0.8,1.3],"nice":false,"zero":false},"axis":{"orient":"right","values":[0.8,1,1.2],"labels":false,"title":null}}}},
  {"data":{"values":[{"label":"(e)"}]},"mark":{"type":"text"},
   "encoding":{"x":{"datum":305.44,"type":"quantitative","scale":{"domain":[304,334],"nice":false,"zero":false},"axis":null},"y":{"datum":1.198,"type":"quantitative","scale":{"domain":[0.8,1.3],"nice":false,"zero":false},"axis":null},"text":{"field":"label"}}}
 ],
 "resolve":{"scale":{"x":"independent","y":"independent"},"axis":{"x":"independent","y":"independent"}}},
{"width":325,"height":181,"data":{"name":"f"},
 "layer":[
  {"mark":{"type":"line","color":"black","strokeWidth":4.5,"clip":true,"strokeJoin":"round"},
   "encoding":{"x":{"field":"d","type":"quantitative","scale":{"domain":[304,333.28],"nice":false,"zero":false},"axis":{"orient":"bottom","values":[310,320,330],"format":"~r","labelPadding":24,"title":"Julian Days","titleFontSize":26,"titleX":166,"titleY":64,"titleBaseline":"alphabetic","titleAlign":"center"}},
    "y":{"field":"v","type":"quantitative","scale":{"domain":[0,0.5],"nice":false,"zero":false},"axis":{"orient":"left","values":[0,0.2,0.4],"format":"~r","labelPadding":23,"title":"uₛ₀[ms⁻¹]","titleX":-76,"titleY":65,"titleAngle":270,"titleBaseline":"middle","titleAlign":"center","titleFontSize":26,"titleFontStyle":"italic"}}}},
  {"mark":{"type":"line","strokeOpacity":0},
   "encoding":{"x":{"field":"d","type":"quantitative","scale":{"domain":[304,333.28],"nice":false,"zero":false},"axis":{"orient":"top","values":[310,320,330],"labels":false,"title":null}},
    "y":{"field":"v","type":"quantitative","scale":{"domain":[0,0.5],"nice":false,"zero":false},"axis":null}}},
  {"data":{"values":[{"label":"(f)"}]},"mark":{"type":"text"},
   "encoding":{"x":{"datum":305.6,"type":"quantitative","scale":{"domain":[304,333.28],"nice":false,"zero":false},"axis":null},"y":{"datum":0.398,"type":"quantitative","scale":{"domain":[0,0.5],"nice":false,"zero":false},"axis":null},"text":{"field":"label"}}}
 ],
 "resolve":{"scale":{"x":"independent","y":"independent"},"axis":{"x":"independent","y":"independent"}}}
]
}
